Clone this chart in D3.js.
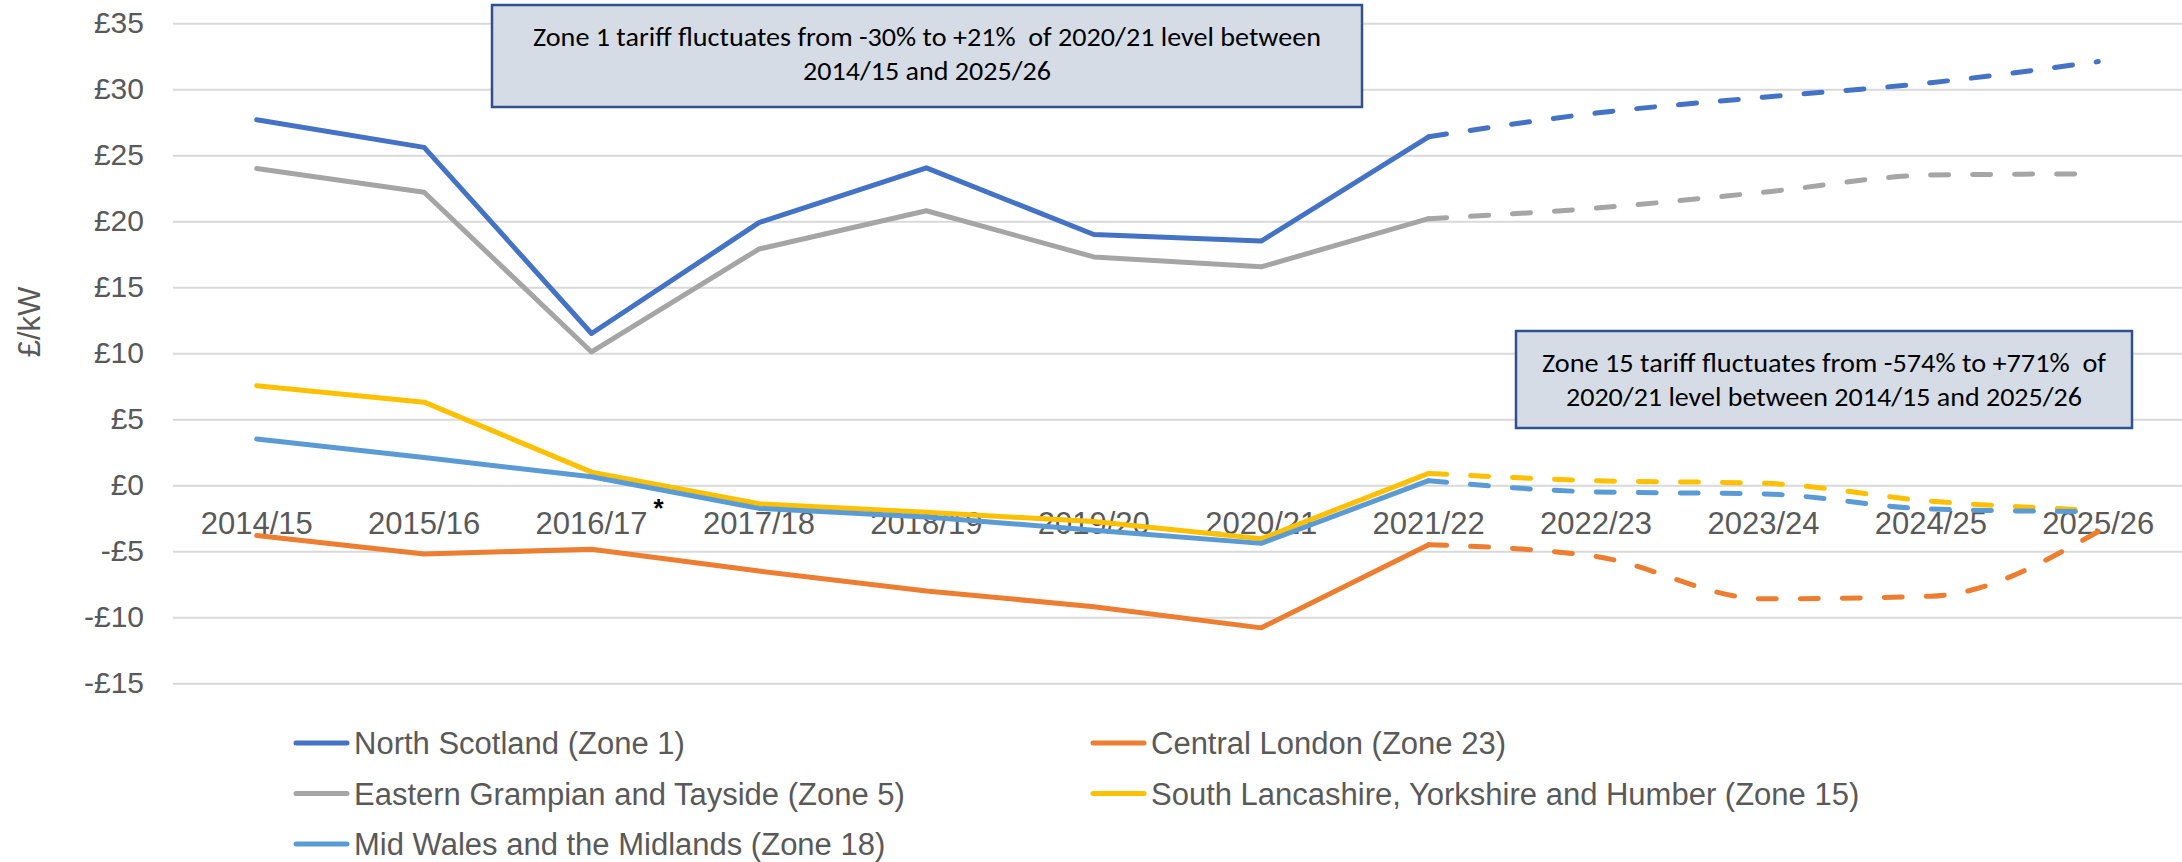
<!DOCTYPE html>
<html>
<head>
<meta charset="utf-8">
<script src="https://cdn.jsdelivr.net/npm/d3@7"></script>
<style>
  body { margin: 0; background: #fff; }
  svg { display: block; }
</style>
</head>
<body>
<div id="chart"></div>
<script>
// categories and tariff values (£/kW)
const years = ["2014/15", "2015/16", "2016/17", "2017/18", "2018/19", "2019/20",
               "2020/21", "2021/22", "2022/23", "2023/24", "2024/25", "2025/26"];
const northScotland   = [27.7, 25.6, 11.5, 19.9, 24.05, 19.0, 18.5, 26.4, 28.2, 29.4, 30.5, 32.1];
const centralLondon   = [-3.8, -5.2, -4.85, -6.5, -8.0, -9.2, -10.8, -4.5, -5.4, -8.6, -8.4, -3.5];
const easternGrampian = [24.0, 22.2, 10.1, 17.9, 20.8, 17.3, 16.55, 20.2, 21.0, 22.2, 23.5, 23.6];
const southLancashire = [7.55, 6.3, 1.0, -1.4, -2.05, -2.75, -4.05, 0.9, 0.35, 0.15, -1.2, -1.9];
const midWales        = [3.5, 2.1, 0.65, -1.75, -2.4, -3.4, -4.4, 0.35, -0.5, -0.65, -1.8, -2.0];

// years from this one on are forecasts (dashed)
const forecastFrom = "2021/22";

const seriesNames = ["North Scotland (Zone 1)", "Central London (Zone 23)",
                     "Eastern Grampian and Tayside (Zone 5)",
                     "South Lancashire, Yorkshire and Humber (Zone 15)",
                     "Mid Wales and the Midlands (Zone 18)"];
const seriesValues = [northScotland, centralLondon, easternGrampian, southLancashire, midWales];
const seriesColors = ["#4472C4", "#ED7D31", "#A5A5A5", "#FFC000", "#5B9BD5"];

const yTicks = [-15, -10, -5, 0, 5, 10, 15, 20, 25, 30, 35];

const notes = [
  {lines: ["Zone 1 tariff fluctuates from -30% to +21%  of 2020/21 level between",
           "2014/15 and 2025/26"], widths: [788, 248]},
  {lines: ["Zone 15 tariff fluctuates from -574% to +771%  of",
           "2020/21 level between 2014/15 and 2025/26"], widths: [564, 516]}
];

// sizes
const W = 2182, H = 862;
const plot = {left: 173, right: 2182, top: 23.3, bottom: 683.3};
const textColor = "#595959";
const axisFont = "'Liberation Sans', Arial, sans-serif";

const svg = d3.select("#chart").append("svg")
  .attr("width", W)
  .attr("height", H)
  .style("background", "#fff");

const x = d3.scaleBand()
  .domain(years)
  .range([plot.left, plot.right]);

const y = d3.scaleLinear()
  .domain([-15, 35])
  .range([plot.bottom, plot.top]);

const cx = d => x(d) + x.bandwidth() / 2;

// gridlines + y labels
const yAxis = svg.append("g")
  .attr("transform", `translate(${plot.left},0)`)
  .call(d3.axisLeft(y)
    .tickValues(yTicks)
    .tickSize(-(plot.right - plot.left))
    .tickPadding(29)
    .tickFormat(v => (v < 0 ? "-£" : "£") + Math.abs(v)));
yAxis.select(".domain").remove();
yAxis.selectAll("line").attr("stroke", "#D9D9D9").attr("stroke-width", 2);
yAxis.selectAll("text")
  .attr("fill", textColor)
  .attr("font-family", axisFont)
  .attr("font-size", 30);

// y title
svg.append("text")
  .attr("transform", "translate(40,322) rotate(-90)")
  .attr("text-anchor", "middle")
  .attr("fill", textColor)
  .attr("font-family", axisFont)
  .attr("font-size", 31)
  .text("£/kW");

// category labels, sitting under the zero line
const xAxis = svg.append("g")
  .attr("transform", `translate(0,${y(0)})`)
  .call(d3.axisBottom(x).tickSize(0));
xAxis.select(".domain").remove();
xAxis.selectAll("text")
  .attr("y", 49)
  .attr("dy", null)
  .attr("fill", textColor)
  .attr("font-family", axisFont)
  .attr("font-size", 31);

// asterisk next to 2016/17
svg.append("text")
  .attr("x", cx("2016/17") + 67)
  .attr("y", y(0) + 32)
  .attr("text-anchor", "middle")
  .attr("font-family", axisFont)
  .attr("font-size", 26)
  .attr("font-weight", "bold")
  .attr("fill", "#000")
  .text("*");

// lines
const solidLine = d3.line()
  .x(d => cx(d.year))
  .y(d => y(d.value));
const dashLine = d3.line()
  .x(d => cx(d.year))
  .y(d => y(d.value))
  .curve(d3.curveMonotoneX);

const cut = years.indexOf(forecastFrom);
const lines = svg.append("g")
  .attr("fill", "none")
  .attr("stroke-width", 5)
  .attr("stroke-linejoin", "round")
  .attr("stroke-linecap", "round");

seriesValues.forEach((vals, i) => {
  const pts = vals.map((v, j) => ({year: years[j], value: v}));
  lines.append("path")
    .attr("d", solidLine(pts.slice(0, cut + 1)))
    .attr("stroke", seriesColors[i]);
  lines.append("path")
    .attr("d", dashLine(pts.slice(cut)))
    .attr("stroke", seriesColors[i])
    .attr("stroke-dasharray", "18,24");
});

// annotation boxes
const boxes = [
  {x: 492, y: 5, w: 870, h: 102},
  {x: 1516, y: 331, w: 616, h: 97}
];
boxes.forEach((b, i) => {
  const g = svg.append("g");
  g.append("rect")
    .attr("x", b.x).attr("y", b.y)
    .attr("width", b.w).attr("height", b.h)
    .attr("fill", "#D6DCE5")
    .attr("stroke", "#2F528F")
    .attr("stroke-width", 2.5);
  notes[i].lines.forEach((t, k) => {
    g.append("text")
      .attr("x", b.x + b.w / 2)
      .attr("y", b.y + 41 + k * 34)
      .attr("text-anchor", "middle")
      .attr("font-family", "Carlito, Lato, 'Open Sans', sans-serif")
      .attr("font-size", 26)
      .attr("fill", "#000")
      .style("white-space", "pre")
      .attr("textLength", notes[i].widths[k])
      .attr("lengthAdjust", "spacingAndGlyphs")
      .text(t);
  });
});

// legend, two columns
const legend = svg.append("g")
  .selectAll("g")
  .data(seriesNames)
  .join("g")
  .attr("transform", (d, i) => `translate(${294 + (i % 2) * 797},${743 + Math.floor(i / 2) * 50.5})`);

legend.append("line")
  .attr("x1", 2).attr("x2", 53)
  .attr("stroke", (d, i) => seriesColors[i])
  .attr("stroke-width", 5)
  .attr("stroke-linecap", "round");

legend.append("text")
  .attr("x", 60)
  .attr("y", 11)
  .attr("fill", textColor)
  .attr("font-family", axisFont)
  .attr("font-size", 31)
  .text(d => d);
</script>
</body>
</html>
